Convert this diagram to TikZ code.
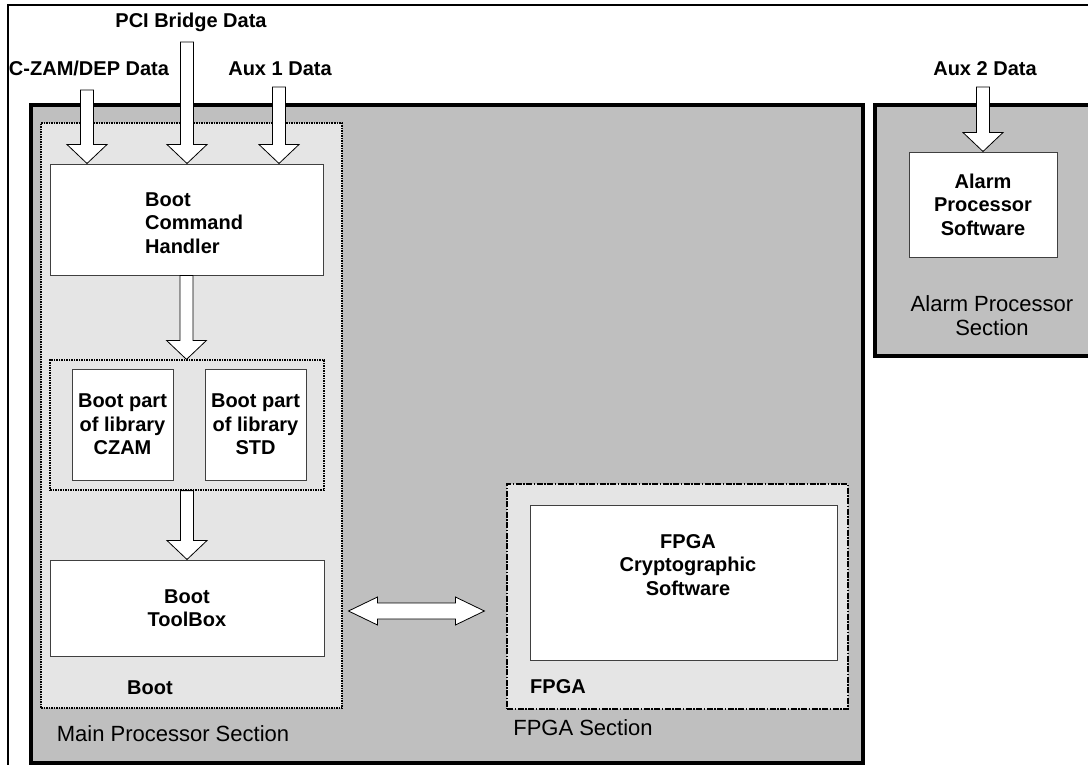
\documentclass[tikz,border=0pt]{standalone}
\usepackage{fontspec}
\setmainfont{Liberation Sans}
\usepackage{tikz}
\usetikzlibrary{calc}
\usetikzlibrary{positioning}

\definecolor{secgray}{gray}{0.75}
\definecolor{bootgray}{gray}{0.9}

\begin{document}
\begin{tikzpicture}[x=1pt, y=-1pt,
    bold/.style={font=\fontsize{20}{23.5}\selectfont\bfseries, inner sep=0pt, align=center},
    plain/.style={font=\fontsize{22}{24}\selectfont, inner sep=0pt, align=center},
    section/.style={rectangle, draw=black, line width=4pt, fill=secgray},
    swbox/.style={rectangle, draw=black!75, line width=1pt, fill=white},
    dotbox/.style={rectangle, draw=black, line width=1.2pt, dash pattern=on 1.5pt off 1pt, fill=bootgray},
    dashdotbox/.style={rectangle, draw=black, line width=1.2pt, dash pattern=on 6pt off 1.5pt on 1.5pt off 1.5pt, fill=bootgray},
    blockarrow/.style={draw=black, line width=0.8pt, fill=white,
        to path={let \p1=(\tikztostart), \p2=(\tikztotarget) in
            (\x1-6.5pt,\y1) -- (\x1-6.5pt,\y2+19pt) -- (\x1-20pt,\y2+19pt) -- (\x1,\y2)
            -- (\x1+20pt,\y2+19pt) -- (\x1+6.5pt,\y2+19pt) -- (\x1+6.5pt,\y1) -- cycle}},
    dblarrow/.style={draw=black, line width=0.8pt, fill=white,
        to path={let \p1=(\tikztostart), \p2=(\tikztotarget) in
            (\x1+24pt,\y1) -- (\x1+53pt,\y1+14pt) -- (\x1+53pt,\y1+8pt) -- (\x2-51pt,\y1+8pt)
            -- (\x2-51pt,\y1+14pt) -- (\x2-22pt,\y1) -- (\x2-51pt,\y1-14pt) -- (\x2-51pt,\y1-8pt)
            -- (\x1+53pt,\y1-8pt) -- (\x1+53pt,\y1-14pt) -- cycle}}]

    \useasboundingbox (0,0) rectangle (1088,764);
    \draw [line width=1.3pt] (8,770) -- (8,5) -- (1095,5);

    \node (main) at (447,434) [section, minimum width=832, minimum height=658] {};
    \node (alarmsec) at (983.5,230.5) [section, minimum width=217, minimum height=251] {};

    \node (boot) at (191.5,415.5) [dotbox, minimum width=301, minimum height=585] {};
    \node (handler) at (186.5,219.5) [swbox, minimum width=273, minimum height=111] {};
    \node (handlertext) at (145,223) [bold, anchor=west, align=left] {Boot\\Command\\Handler};
    \node (lib) at (187,425) [dotbox, minimum width=274, minimum height=130] {};
    \node (czam) at (122.5,424.5) [swbox, bold, minimum width=101, minimum height=111] {Boot part\\of library\\CZAM};
    \node (std) at (255.5,424.5) [swbox, bold, minimum width=101, minimum height=111] {Boot part\\of library\\STD};
    \node (toolbox) at (187,608) [swbox, bold, minimum width=274, minimum height=96] {Boot\\ToolBox};
    \node (bootlabel) at (150,688) [bold] {Boot};
    \node (mainlabel) at (173,734) [plain] {Main Processor Section};

    \node (fpga) at (677.5,596.5) [dashdotbox, minimum width=341, minimum height=225] {};
    \node (fpgasw) at (683.5,582.5) [swbox, minimum width=307, minimum height=155] {};
    \node (fpgatext) at (688,565) [bold] {FPGA\\Cryptographic\\Software};
    \node (fpgalabel) at (558,687) [bold] {FPGA};
    \node (fpgaseclabel) at (583,728) [plain] {FPGA Section};

    \node (alarmsw) at (983,204.5) [swbox, bold, minimum width=148, minimum height=105] {Alarm\\Processor\\Software};
    \node (alarmlabel) at (992,316) [plain] {Alarm Processor\\Section};

    \node (pcilabel) at (191,27) [bold, anchor=base] {PCI Bridge Data};
    \node (czamlabel) at (89,75) [bold, anchor=base] {C-ZAM/DEP Data};
    \node (auxonelabel) at (280,75) [bold, anchor=base] {Aux 1 Data};
    \node (auxtwolabel) at (985,75) [bold, anchor=base] {Aux 2 Data};

    \coordinate (pcitop) at (187,42);
    \coordinate (czamtop) at (87,90);
    \coordinate (auxonetop) at (279,87);
    \coordinate (auxtwotop) at (983,87);

    \path [blockarrow] (czamtop) to (czamtop |- handler.north);
    \path [blockarrow] (pcitop) to (pcitop |- handler.north);
    \path [blockarrow] (auxonetop) to (auxonetop |- handler.north);
    \path [blockarrow] (auxtwotop) to (auxtwotop |- alarmsw.north);

    \path [blockarrow] (handler.south) to (lib.north);
    \path [blockarrow] (lib.south) to (toolbox.north);

    \path [dblarrow] ([yshift=-3pt]toolbox.east) to ([yshift=-3pt]fpga.west);

\end{tikzpicture}
\end{document}
